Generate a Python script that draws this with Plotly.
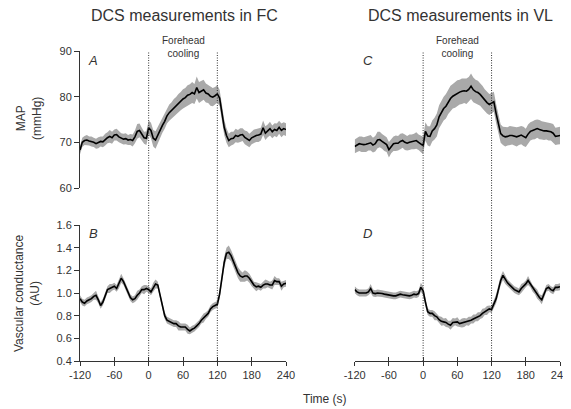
import plotly.graph_objects as go

# time axis, one sample every 4 s
time_s = list(range(-120, 241, 4))

# MAP (mmHg) with DCS in forehead (FC)
map_fc = [68.3, 70.0, 70.4, 70.5, 70.3, 70.2, 70.0, 69.7, 69.9, 70.2,
          70.1, 70.6, 71.0, 71.3, 71.0, 71.6, 71.7, 71.2, 70.9, 70.7,
          70.8, 70.5, 70.6, 70.4, 71.2, 72.4, 72.6, 71.8, 71.0, 70.9,
          73.2, 72.6, 70.9, 70.5, 71.6, 72.8, 73.7, 74.6, 75.8, 76.5,
          77.0, 77.6, 78.0, 78.6, 79.0, 79.5, 79.8, 80.3, 80.5, 80.9,
          80.6, 82.0, 80.9, 81.2, 81.5, 80.8, 80.6, 80.1, 79.9, 80.2,
          80.6, 79.7, 76.6, 73.3, 71.5, 70.4, 70.8, 70.9, 71.5, 71.3,
          71.6, 71.7, 71.1, 70.8, 70.4, 71.0, 71.3, 71.5, 71.6, 71.8,
          73.2, 72.0, 72.5, 73.0, 72.3, 72.8, 72.6, 73.3, 72.6, 73.0,
          72.8]
map_fc_sd = [0.9, 1.0, 1.0, 1.1, 1.0, 1.1, 1.0, 1.1, 1.2, 1.1,
             1.2, 1.3, 1.2, 1.4, 1.3, 1.2, 1.3, 1.2, 1.1, 1.2,
             1.2, 1.1, 1.2, 1.3, 1.4, 1.6, 1.5, 1.4, 1.3, 1.5,
             1.6, 1.7, 1.8, 1.9, 1.8, 1.7, 1.6, 1.6, 1.7, 1.8,
             1.8, 1.9, 1.9, 2.0, 2.0, 2.1, 2.1, 2.2, 2.2, 2.3,
             2.2, 2.4, 2.3, 2.2, 2.2, 2.1, 2.0, 2.1, 2.0, 1.9,
             1.9, 1.8, 1.8, 1.7, 1.6, 1.5, 1.5, 1.4, 1.5, 1.4,
             1.5, 1.4, 1.5, 1.6, 1.5, 1.4, 1.5, 1.4, 1.5, 1.4,
             1.6, 1.5, 1.4, 1.5, 1.4, 1.4, 1.5, 1.4, 1.5, 1.4,
             1.4]

# MAP (mmHg) with DCS in vastus lateralis (VL)
map_vl = [69.1, 69.4, 69.7, 69.6, 69.5, 69.6, 69.8, 69.9, 69.4, 69.7,
          70.5, 70.6, 70.2, 69.8, 69.5, 68.4, 69.2, 69.7, 69.8, 69.8,
          70.2, 70.4, 70.0, 69.8, 70.0, 70.1, 70.2, 70.4, 70.0, 69.6,
          69.3, 72.4, 71.4, 71.3, 72.5, 73.0, 73.8, 75.6, 76.6, 77.4,
          77.9, 78.9, 79.6, 80.1, 80.4, 80.8, 81.0, 81.2, 81.3, 81.2,
          81.6, 82.3, 81.5, 81.1, 80.9, 80.5, 79.9, 79.2, 78.7, 78.3,
          78.6, 78.9, 76.3, 73.8, 71.9, 71.4, 71.2, 71.3, 71.5, 71.5,
          71.3, 71.2, 71.4, 71.6, 71.3, 71.0, 71.8, 72.4, 72.6, 72.8,
          73.0, 72.8, 72.6, 72.5, 72.5, 72.4, 72.3, 72.0, 71.3, 71.4,
          71.5]
map_vl_sd = [1.5, 1.6, 1.6, 1.7, 1.6, 1.7, 1.6, 1.7, 1.6, 1.7,
             1.8, 1.7, 1.6, 1.7, 1.6, 1.7, 1.6, 1.6, 1.7, 1.6,
             1.7, 1.6, 1.7, 1.6, 1.7, 1.6, 1.7, 1.8, 1.7, 1.8,
             1.9, 2.0, 2.1, 2.2, 2.3, 2.4, 2.5, 2.5, 2.6, 2.6,
             2.7, 2.7, 2.8, 2.7, 2.8, 2.8, 2.7, 2.8, 2.7, 2.8,
             2.7, 2.8, 2.7, 2.6, 2.6, 2.5, 2.5, 2.4, 2.4, 2.3,
             2.2, 2.2, 2.1, 2.1, 2.0, 2.0, 2.1, 2.0, 2.1, 2.0,
             2.0, 2.1, 2.0, 2.0, 2.1, 2.0, 2.1, 2.0, 2.0, 2.1,
             2.0, 2.1, 2.0, 2.0, 1.9, 2.0, 1.9, 2.0, 1.9, 1.9,
             1.9]

# vascular conductance (AU), FC
vc_fc = [0.95, 0.92, 0.91, 0.93, 0.94, 0.95, 0.97, 0.98, 0.94, 0.89,
         0.92, 0.98, 1.03, 1.04, 1.05, 1.06, 1.04, 1.08, 1.13, 1.10,
         1.05, 1.00, 0.96, 0.94, 0.95, 0.98, 1.00, 1.03, 1.03, 1.04,
         1.03, 1.01, 1.05, 1.08, 1.07, 0.97, 0.88, 0.80, 0.76, 0.75,
         0.74, 0.73, 0.73, 0.71, 0.70, 0.70, 0.70, 0.68, 0.665, 0.68,
         0.69, 0.71, 0.73, 0.76, 0.78, 0.80, 0.82, 0.86, 0.88, 0.89,
         0.90, 0.99, 1.13, 1.27, 1.35, 1.36, 1.33, 1.28, 1.24, 1.18,
         1.15, 1.14, 1.15, 1.15, 1.13, 1.10, 1.07, 1.055, 1.06, 1.05,
         1.07, 1.08, 1.08, 1.07, 1.07, 1.11, 1.10, 1.10, 1.06, 1.08,
         1.085]
vc_fc_sd = [0.03, 0.03, 0.03, 0.03, 0.03, 0.03, 0.03, 0.04, 0.03, 0.03,
            0.03, 0.03, 0.03, 0.04, 0.03, 0.03, 0.03, 0.04, 0.04, 0.03,
            0.03, 0.03, 0.03, 0.03, 0.03, 0.04, 0.03, 0.03, 0.04, 0.03,
            0.03, 0.03, 0.04, 0.04, 0.03, 0.03, 0.03, 0.03, 0.03, 0.03,
            0.03, 0.03, 0.03, 0.04, 0.03, 0.03, 0.03, 0.04, 0.03, 0.03,
            0.03, 0.03, 0.03, 0.03, 0.04, 0.03, 0.03, 0.03, 0.03, 0.03,
            0.03, 0.04, 0.04, 0.05, 0.05, 0.06, 0.05, 0.05, 0.05, 0.05,
            0.05, 0.04, 0.05, 0.04, 0.04, 0.04, 0.03, 0.04, 0.03, 0.03,
            0.03, 0.04, 0.03, 0.03, 0.04, 0.04, 0.03, 0.03, 0.04, 0.03,
            0.03]

# vascular conductance (AU), VL
vc_vl = [1.03, 1.01, 1.00, 1.00, 0.995, 1.00, 1.01, 1.04, 1.00, 0.995,
         1.00, 1.00, 0.995, 0.99, 0.985, 0.98, 0.98, 0.975, 0.975, 0.98,
         0.99, 0.985, 0.98, 0.98, 0.975, 0.98, 0.99, 0.985, 0.995, 1.05,
         1.02, 0.92, 0.835, 0.82, 0.82, 0.80, 0.79, 0.765, 0.75, 0.745,
         0.74, 0.725, 0.715, 0.74, 0.745, 0.745, 0.73, 0.735, 0.74, 0.745,
         0.75, 0.76, 0.77, 0.78, 0.79, 0.80, 0.82, 0.835, 0.845, 0.86,
         0.855, 0.90, 0.95, 1.03, 1.11, 1.155, 1.12, 1.09, 1.07, 1.05,
         1.03, 1.02, 1.01, 1.04, 1.06, 1.08, 1.11, 1.08, 1.04, 1.02,
         0.99, 0.96, 0.94, 0.99, 1.04, 1.05, 1.03, 1.02, 1.05, 1.05,
         1.055]
vc_vl_sd = [0.03, 0.03, 0.03, 0.03, 0.03, 0.03, 0.03, 0.04, 0.03, 0.03,
            0.03, 0.03, 0.03, 0.03, 0.03, 0.03, 0.03, 0.03, 0.03, 0.03,
            0.03, 0.03, 0.03, 0.03, 0.03, 0.03, 0.03, 0.03, 0.03, 0.04,
            0.04, 0.04, 0.03, 0.03, 0.03, 0.04, 0.03, 0.03, 0.04, 0.03,
            0.04, 0.03, 0.04, 0.04, 0.03, 0.04, 0.03, 0.04, 0.04, 0.03,
            0.04, 0.03, 0.04, 0.03, 0.04, 0.03, 0.04, 0.03, 0.04, 0.03,
            0.03, 0.03, 0.04, 0.04, 0.04, 0.04, 0.04, 0.03, 0.03, 0.03,
            0.03, 0.03, 0.03, 0.04, 0.03, 0.03, 0.04, 0.03, 0.03, 0.03,
            0.04, 0.03, 0.04, 0.03, 0.03, 0.03, 0.03, 0.03, 0.03, 0.03,
            0.03]

x_ticks = [-120, -60, 0, 60, 120, 180, 240]
x_ticktext = ["-120", "-60", "0", "60", "120", "180", "240"]
map_ticks = [60, 70, 80, 90]
vc_ticks = [0.4, 0.6, 0.8, 1.0, 1.2, 1.4, 1.6]
cooling = [0, 120]   # start / end of forehead cooling

FONT = "Liberation Sans, Arial, sans-serif"
AX_COL = "#333333"
BAND_COL = "#a9a9a9"
W, H = 571, 409
BODY = 8  # the page body margin shifts the plot div by 8 px


def fx(px):
    """window pixel (x) -> paper fraction"""
    return (px - BODY) / W


def fy(px):
    """window pixel (y, from top) -> paper fraction"""
    return 1 - (px - BODY) / H


def add_panel(fig, mean, sd, xa, ya):
    """mean line with a grey +/- SD band"""
    upper = [m + s for m, s in zip(mean, sd)]
    lower = [m - s for m, s in zip(mean, sd)]
    fig.add_trace(go.Scatter(x=time_s, y=upper, xaxis=xa, yaxis=ya, mode="lines",
                             line=dict(width=0, color=BAND_COL), hoverinfo="skip"))
    fig.add_trace(go.Scatter(x=time_s, y=lower, xaxis=xa, yaxis=ya, mode="lines",
                             line=dict(width=0, color=BAND_COL), fill="tonexty",
                             fillcolor=BAND_COL, hoverinfo="skip"))
    fig.add_trace(go.Scatter(x=time_s, y=mean, xaxis=xa, yaxis=ya, mode="lines",
                             line=dict(width=1.6, color="black")))


def add_text(fig, text, px, py, size, angle=0, xref="paper", x=None):
    fig.add_annotation(x=fx(px) if x is None else x, xref=xref, y=fy(py), yref="paper",
                       text=text, textangle=angle, showarrow=False,
                       xanchor="center", yanchor="middle",
                       font=dict(family=FONT, size=size, color=AX_COL))


fig = go.Figure()
add_panel(fig, map_fc, map_fc_sd, "x", "y")
add_panel(fig, map_vl, map_vl_sd, "x2", "y2")
add_panel(fig, vc_fc, vc_fc_sd, "x3", "y3")
add_panel(fig, vc_vl, vc_vl_sd, "x4", "y4")
# empty traces so the overlay axes (inner half of the crossing ticks) get drawn
fig.add_trace(go.Scatter(x=[], y=[], xaxis="x5", yaxis="y3"))
fig.add_trace(go.Scatter(x=[], y=[], xaxis="x6", yaxis="y4"))

# panel geometry
x_left = [fx(80), fx(286)]
x_right = [fx(354.7), fx(560)]
y_top = [fy(188), fy(51)]
y_bot = [fy(361), fy(225)]

hidden = dict(visible=False, showgrid=False, zeroline=False, automargin=False)
tickfont = dict(family=FONT, size=11, color=AX_COL)
xshown = dict(range=[-120, 240], tickvals=x_ticks, ticktext=x_ticktext, showline=True,
              linecolor=AX_COL, linewidth=1, ticks="outside", ticklen=4, tickcolor=AX_COL,
              showgrid=False, zeroline=False, tickfont=tickfont, automargin=False)
xinner = dict(range=[-120, 240], tickvals=x_ticks, showline=False, ticks="inside",
              ticklen=4, tickcolor=AX_COL, showticklabels=False,
              showgrid=False, zeroline=False, automargin=False)

fig.update_layout(
    width=W, height=H, autosize=False,
    margin=dict(l=0, r=0, t=0, b=0, pad=0),
    paper_bgcolor="white", plot_bgcolor="white",
    showlegend=False,
    font=dict(family=FONT, color=AX_COL),
    xaxis=dict(domain=x_left, anchor="y", range=[-120, 240], **hidden),
    yaxis=dict(domain=y_top, anchor="x", range=[60, 90], tickvals=map_ticks,
               showline=True, linecolor=AX_COL, linewidth=1, ticks="outside",
               ticklen=5, tickcolor=AX_COL, showgrid=False, zeroline=False,
               tickfont=tickfont, automargin=False),
    xaxis2=dict(domain=x_right, anchor="y2", range=[-120, 240], **hidden),
    yaxis2=dict(domain=y_top, anchor="x2", range=[60, 90], **hidden),
    xaxis3=dict(domain=x_left, anchor="y3", **xshown),
    yaxis3=dict(domain=y_bot, anchor="x3", range=[0.4, 1.6], tickvals=vc_ticks,
                tickformat=".1f", showline=True, linecolor=AX_COL, linewidth=1,
                ticks="outside", ticklen=5, tickcolor=AX_COL, showgrid=False,
                zeroline=False, tickfont=tickfont, automargin=False),
    xaxis4=dict(domain=x_right, anchor="y4", **xshown),
    yaxis4=dict(domain=y_bot, anchor="x4", range=[0.4, 1.6], **hidden),
    xaxis5=dict(domain=x_left, anchor="y3", overlaying="x3", **xinner),
    xaxis6=dict(domain=x_right, anchor="y4", overlaying="x4", **xinner),
)

# dotted lines marking the cooling period, through both rows
for xa in ["x3", "x4"]:
    for t0 in cooling:
        fig.add_shape(type="line", xref=xa, yref="paper", x0=t0, x1=t0,
                      y0=y_bot[0], y1=y_top[1],
                      line=dict(color=AX_COL, width=1, dash="1px,1.5px"))

# texts
add_text(fig, "DCS measurements in FC", 184, 16, 16)
add_text(fig, "DCS measurements in VL", 460, 16, 16)
for xa in ["x", "x2"]:
    add_text(fig, "Forehead<br>cooling", 0, 47.5, 10, xref=xa, x=60)
for letter, px, py in [("A", 93, 60), ("C", 368, 60), ("B", 93, 233), ("D", 367, 233)]:
    add_text(fig, f"<i>{letter}</i>", px, py, 13)
add_text(fig, "MAP<br>(mmHg)", 29, 119, 12, angle=-90)
add_text(fig, "Vascular conductance<br>(AU)", 27, 293, 12, angle=-90)
add_text(fig, "Time (s)", 325, 399, 12)

fig.write_html("out.html")
